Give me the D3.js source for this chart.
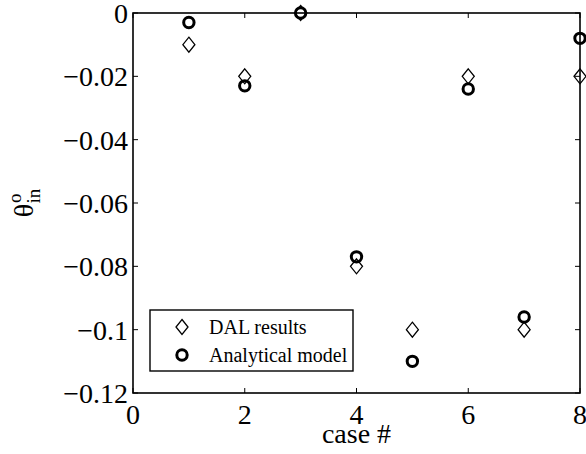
<!DOCTYPE html>
<html><head><meta charset="utf-8">
<script src="https://cdn.jsdelivr.net/npm/d3@7"></script>
<style>body{margin:0;background:#fff}svg{display:block}text{font-family:"Liberation Serif","Times New Roman",serif;fill:#000}</style>
</head><body><svg id="c" width="586" height="454"></svg>
<script>
const cases = [1,2,3,4,5,6,7,8];
const dalResults = [-0.01,-0.02,0,-0.08,-0.1,-0.02,-0.1,-0.02];
const analyticalModel = [-0.003,-0.023,0,-0.077,-0.11,-0.024,-0.096,-0.008];
const xTicks = [0,2,4,6,8];
const yTicks = [0,-0.02,-0.04,-0.06,-0.08,-0.1,-0.12];
const legendLabels = ["DAL results","Analytical model"];

const svg = d3.select("#c");
const m = {l:133, r:580, t:13, b:393};
const x = d3.scaleLinear().domain([0,8]).range([m.l,m.r]);
const y = d3.scaleLinear().domain([-0.12,0]).range([m.b,m.t]);
const fmt = v => (v<0?"\u2212":"") + String(Math.abs(v));
const fs = 28;

// axes box
svg.append("rect").attr("x",m.l).attr("y",m.t).attr("width",m.r-m.l).attr("height",m.b-m.t)
  .attr("fill","none").attr("stroke","#000").attr("stroke-width",1.6);
const tl = 5;
xTicks.forEach(t=>{
  svg.append("line").attr("x1",x(t)).attr("x2",x(t)).attr("y1",m.b).attr("y2",m.b-tl).attr("stroke","#000");
  svg.append("line").attr("x1",x(t)).attr("x2",x(t)).attr("y1",m.t).attr("y2",m.t+tl).attr("stroke","#000");
  svg.append("text").attr("x",x(t)).attr("y",m.b+31).attr("text-anchor","middle").attr("font-size",fs).text(fmt(t));
});
yTicks.forEach(t=>{
  svg.append("line").attr("x1",m.l).attr("x2",m.l+tl).attr("y1",y(t)).attr("y2",y(t)).attr("stroke","#000");
  svg.append("line").attr("x1",m.r).attr("x2",m.r-tl).attr("y1",y(t)).attr("y2",y(t)).attr("stroke","#000");
  svg.append("text").attr("x",m.l-5).attr("y",y(t)+10).attr("text-anchor","end").attr("font-size",fs).text(fmt(t));
});

// axis labels
svg.append("text").attr("x",(m.l+m.r)/2).attr("y",443).attr("text-anchor","middle").attr("font-size",fs).text("case #");
const yl = svg.append("text").attr("transform",`translate(33,${(m.t+m.b)/2}) rotate(-90)`).attr("text-anchor","middle").attr("font-size",fs);
yl.append("tspan").text("\u03b8");
yl.append("tspan").attr("font-size",19).attr("dy",-12).attr("dx",1).text("o");
yl.append("tspan").attr("font-size",19).attr("dy",19).attr("dx",-10).text("in");

// markers
const diamond = (cx,cy)=>`M${cx},${cy-7.5}L${cx+6},${cy}L${cx},${cy+7.5}L${cx-6},${cy}Z`;
svg.append("g").selectAll("path").data(cases).join("path")
  .attr("d",(d,i)=>diamond(x(d),y(dalResults[i])))
  .attr("fill","none").attr("stroke","#000").attr("stroke-width",1.3);
svg.append("g").selectAll("circle").data(cases).join("circle")
  .attr("cx",d=>x(d)).attr("cy",(d,i)=>y(analyticalModel[i])).attr("r",5.2)
  .attr("fill","none").attr("stroke","#000").attr("stroke-width",3);

// legend
const lg = svg.append("g");
lg.append("rect").attr("x",150).attr("y",310).attr("width",203).attr("height",61)
  .attr("fill","#fff").attr("stroke","#000").attr("stroke-width",1.4);
lg.append("path").attr("d",diamond(182,327)).attr("fill","none").attr("stroke","#000").attr("stroke-width",1.3);
lg.append("circle").attr("cx",182).attr("cy",355).attr("r",5.2).attr("fill","none").attr("stroke","#000").attr("stroke-width",3);
lg.append("text").attr("x",209).attr("y",334).attr("font-size",20).text(legendLabels[0]);
lg.append("text").attr("x",209).attr("y",362).attr("font-size",20).text(legendLabels[1]);
</script></body></html>
